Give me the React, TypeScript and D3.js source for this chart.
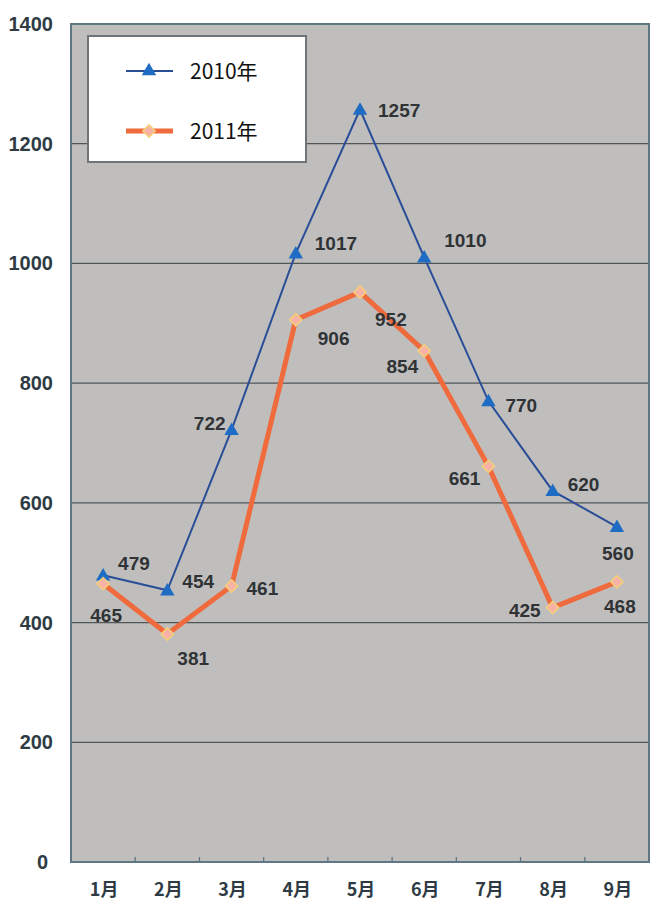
import React from "react";
import * as d3 from "d3";

const months = ["1月", "2月", "3月", "4月", "5月", "6月", "7月", "8月", "9月"];
const values2010 = [479, 454, 722, 1017, 1257, 1010, 770, 620, 560];
const values2011 = [465, 381, 461, 906, 952, 854, 661, 425, 468];
const yTicks = [0, 200, 400, 600, 800, 1000, 1200, 1400];

// label placement relative to the marker: [dx, dy, anchor]
const offs2010: [number, number, string][] = [
  [15, -5, "start"], [15, -2, "start"], [-6, 0, "end"], [19, -3, "start"], [18, 7, "start"],
  [20, -10, "start"], [17, 11, "start"], [15, 0, "start"], [1, 33, "middle"],
];
const offs2011: [number, number, string][] = [
  [3, 38, "middle"], [10, 31, "start"], [15, 9, "start"], [22, 25, "start"], [15, 34, "start"],
  [-6, 22, "end"], [-8, 19, "end"], [-12, 9, "end"], [3, 31, "middle"],
];

const W = 652, H = 909;
const left = 71, right = 649, top = 24, bottom = 862;

export default function App() {
  const x = d3.scaleBand<string>().domain(months).range([left, right]);
  const y = d3.scaleLinear().domain([0, 1400]).range([bottom, top]);
  const cx = (m: string) => (x(m) as number) + x.bandwidth() / 2;

  const line = d3.line<number>().x((_, i) => cx(months[i])).y((d) => y(d));

  const tri = d3.symbol().type(d3.symbolTriangle).size(90)();
  const dia = d3.symbol().type(d3.symbolSquare).size(75)();

  const numFont = "'Liberation Sans', Arial, sans-serif";

  return (
    <svg width={W} height={H} style={{ position: "absolute", left: 0, top: 0, background: "#fff" }}>
      <rect x={left} y={top} width={right - left} height={bottom - top} fill="#c0bebd" />
      {yTicks.slice(1, -1).map((t) => (
        <line key={t} x1={left} x2={right} y1={y(t)} y2={y(t)} stroke="#505558" strokeWidth={1.3} />
      ))}
      {months.slice(1).map((m) => (
        <line key={m} x1={x(m)} x2={x(m)} y1={bottom} y2={bottom - 5} stroke="#5f7684" strokeWidth={1.3} />
      ))}
      <rect x={left} y={top} width={right - left} height={bottom - top} fill="none" stroke="#5f7684" strokeWidth={2} />

      {yTicks.map((t) => (
        <text key={t} x={t === 0 ? 48 : 53} y={y(t) + 7} textAnchor="end" fontFamily={numFont}
          fontWeight="bold" fontSize={20} fill="#2f3b44">{t}</text>
      ))}
      {months.map((m) => (
        <text key={m} x={cx(m) + 1} y={896} textAnchor="middle" fontFamily="'Noto Sans CJK JP', sans-serif"
          fontWeight="bold" fontSize={18} fill="#2f3b44">{m}</text>
      ))}

      <path d={line(values2010) || ""} fill="none" stroke="#2a4d98" strokeWidth={2} />
      {values2010.map((v, i) => (
        <path key={i} d={tri || ""} transform={`translate(${cx(months[i])},${y(v) + 1})`} fill="#1f6cc4" />
      ))}
      <path d={line(values2011) || ""} fill="none" stroke="#ef6a3c" strokeWidth={5} strokeLinejoin="round" />
      {values2011.map((v, i) => (
        <path key={i} d={dia || ""} transform={`translate(${cx(months[i])},${y(v)}) rotate(45)`} fill="#f6b2a6"
          stroke="#f6cf78" strokeWidth={1.5} />
      ))}

      {values2010.map((v, i) => (
        <text key={i} x={cx(months[i]) + offs2010[i][0]} y={y(v) + offs2010[i][1]} textAnchor={offs2010[i][2]}
          fontFamily={numFont} fontWeight="bold" fontSize={19} fill="#2f3336">{v}</text>
      ))}
      {values2011.map((v, i) => (
        <text key={i} x={cx(months[i]) + offs2011[i][0]} y={y(v) + offs2011[i][1]} textAnchor={offs2011[i][2]}
          fontFamily={numFont} fontWeight="bold" fontSize={19} fill="#2f3336">{v}</text>
      ))}

      <g>
        <rect x={88} y={36} width={218} height={126} fill="#fff" stroke="#6e7478" strokeWidth={2} />
        <line x1={126} x2={173} y1={71} y2={71} stroke="#2a4d98" strokeWidth={2} />
        <path d={tri || ""} transform="translate(149,71)" fill="#1f6cc4" />
        <text x={190} y={79} fontFamily="'Noto Sans CJK JP', sans-serif" fontSize={21} fill="#111">2010年</text>
        <line x1={126} x2={173} y1={131} y2={131} stroke="#ef6a3c" strokeWidth={5} />
        <path d={dia || ""} transform="translate(149,131) rotate(45)" fill="#f6b2a6" stroke="#f6cf78" strokeWidth={1.5} />
        <text x={190} y={139} fontFamily="'Noto Sans CJK JP', sans-serif" fontSize={21} fill="#111">2011年</text>
      </g>
    </svg>
  );
}
